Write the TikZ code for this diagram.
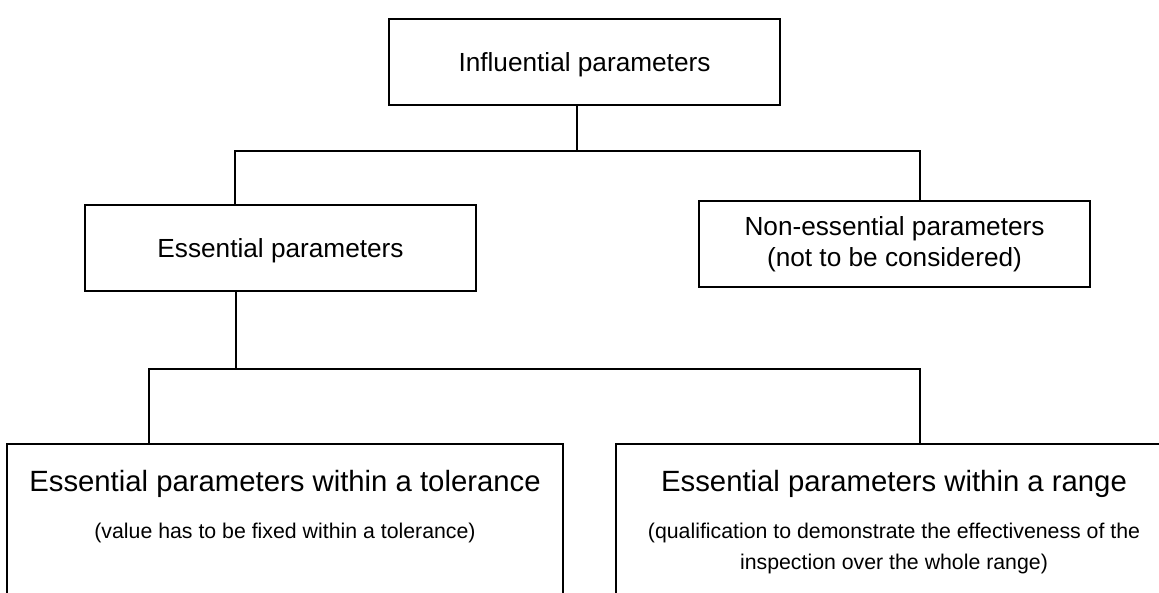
\documentclass[tikz,border=0pt]{standalone}
\usepackage{fontspec}
\setmainfont{Liberation Sans}
\usetikzlibrary{positioning,calc}
\newcommand{\titlesize}{\fontsize{29.3}{31}\selectfont}
\tikzset{%
  param box/.style={
    rectangle,
    draw,
    minimum width=391pt,
    minimum height=86pt,
    inner sep=0pt,
    align=center,
    font=\fontsize{26.2}{31}\selectfont
  },
  one line/.style={
    text depth=0pt
  },
  range box/.style={
    rectangle,
    draw,
    anchor=north,
    minimum width=556pt,
    inner xsep=0pt,
    inner ysep=26.6pt,
    text depth=120pt,
    align=center,
    font=\fontsize{21.3}{31}\selectfont
  },
}

\begin{document}
\begin{tikzpicture}[x=1pt, y=-1pt, line width=1.8pt]
    \useasboundingbox (0,0) rectangle (1159,593);
    \clip (0,0) rectangle (1159,593);

    \node [param box, one line] (infl) at (584.5,62) {Influential parameters};
    \node [param box, one line] (ess) at (280.5,248) {Essential parameters};
    \node [param box] (non) at (894.5,244) {Non-essential parameters\\(not to be considered)};
    \node [range box] (tol) at (285,443) {{\titlesize Essential parameters within a tolerance}\\[16pt]
        (value has to be fixed within a tolerance)};
    \node [range box] (range) at (894,443) {{\titlesize Essential parameters within a range}\\[16pt]
        (qualification to demonstrate the effectiveness of the\\inspection over the whole range)};

    \coordinate (bus-infl) at (577,151);
    \coordinate (bus-ess) at (236,369);
    \coordinate (drop-ess) at (235,151);
    \coordinate (drop-non) at (920,151);
    \coordinate (drop-tol) at (149,369);
    \coordinate (drop-range) at (920,369);

    \foreach \up/\l/\r in {infl/ess/non, ess/tol/range} {
        \draw (\up.south -| bus-\up) -- (bus-\up);
        \draw (\l.north -| drop-\l) -- (drop-\l) -- (drop-\r) -- (\r.north -| drop-\r);
    }
\end{tikzpicture}
\end{document}
